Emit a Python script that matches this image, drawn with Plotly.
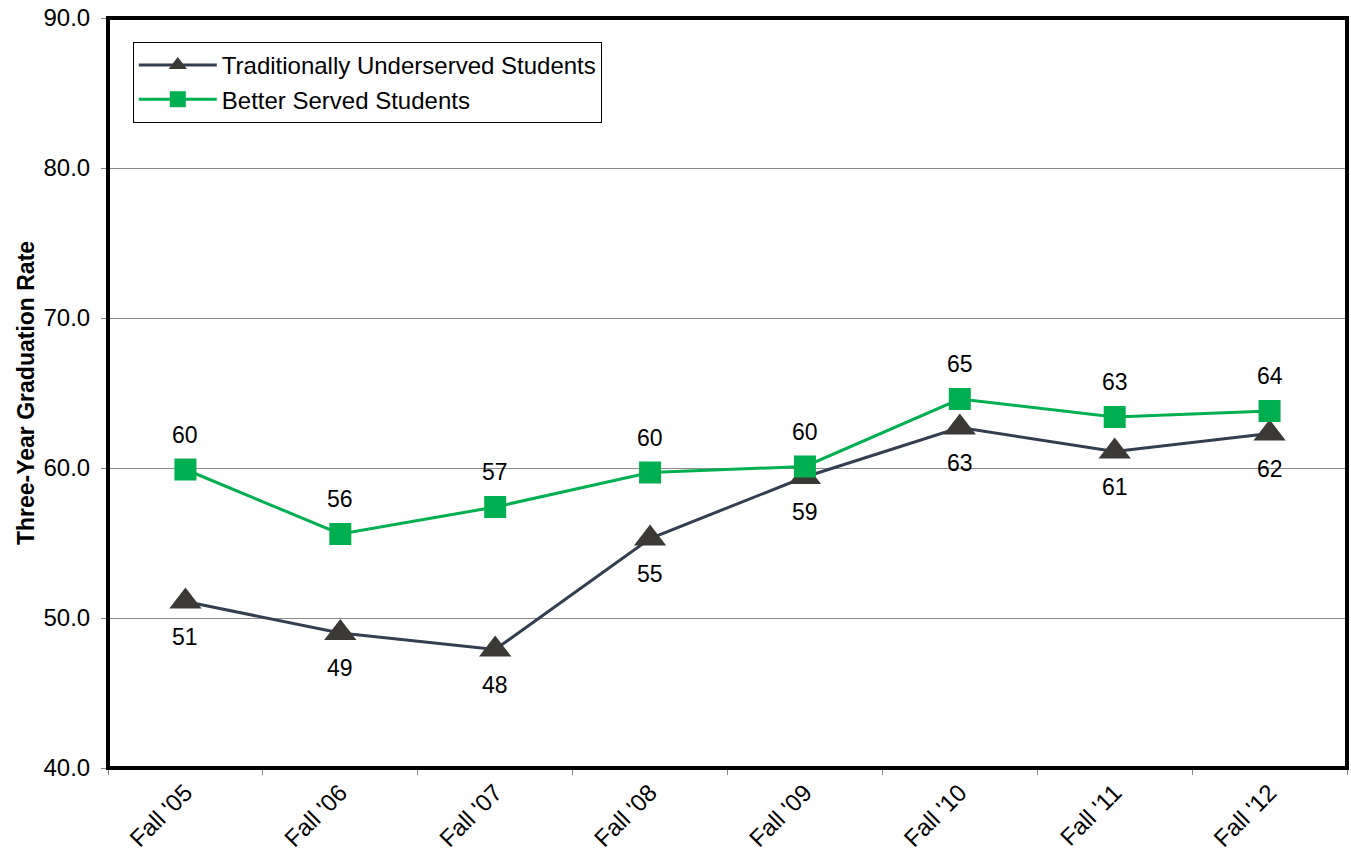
import plotly.graph_objects as go

categories = ["Fall '05", "Fall '06", "Fall '07", "Fall '08", "Fall '09", "Fall '10", "Fall '11", "Fall '12"]
underserved = [51.1, 49.0, 47.9, 55.3, 59.4, 62.7, 61.1, 62.3]
better_served = [59.9, 55.6, 57.4, 59.7, 60.1, 64.6, 63.4, 63.8]
y_ticks = [40, 50, 60, 70, 80, 90]

FONT = "Liberation Sans, Arial"

fig = go.Figure()

fig.add_trace(go.Scatter(
    x=categories, y=underserved, name="Traditionally Underserved Students",
    mode="lines+markers",
    line=dict(color="#333F50", width=3),
    marker=dict(symbol="triangle-up", size=28, color="#3B3936"),
))
fig.add_trace(go.Scatter(
    x=categories, y=better_served, name="Better Served Students",
    mode="lines+markers",
    line=dict(color="#00B050", width=3),
    marker=dict(symbol="square", size=22, color="#00B050"),
))

for c, v in zip(categories, underserved):
    fig.add_annotation(x=c, y=v, text=f"{v:.0f}", showarrow=False, yshift=-35,
                       font=dict(family=FONT, size=23, color="#000000"))
for c, v in zip(categories, better_served):
    fig.add_annotation(x=c, y=v, text=f"{v:.0f}", showarrow=False, yshift=35,
                       font=dict(family=FONT, size=23, color="#000000"))

fig.add_shape(type="rect", xref="paper", yref="paper", x0=0, y0=0, x1=1, y1=1,
              line=dict(color="#000000", width=4), layer="above")

fig.update_layout(
    width=1351, height=856,
    margin=dict(l=108, r=4, t=16, b=88),
    paper_bgcolor="white", plot_bgcolor="white",
    font=dict(family=FONT, color="#000000"),
    showlegend=True,
    legend=dict(
        x=0.02, y=0.968, xanchor="left", yanchor="top",
        bordercolor="#000000", borderwidth=1, bgcolor="white",
        font=dict(size=24), tracegroupgap=0, itemwidth=78,
    ),
    xaxis=dict(
        type="category", tickangle=-45, tickson="boundaries",
        ticks="outside", ticklen=6, tickcolor="#888888",
        showline=True, linecolor="#888888", linewidth=1,
        showgrid=False, tickfont=dict(size=24),
        range=[-0.5, len(categories) - 0.5],
    ),
    yaxis=dict(
        range=[40, 90], tickvals=y_ticks, ticktext=[f"{t:.1f}" for t in y_ticks],
        ticks="outside", ticklen=6, tickcolor="#888888",
        showline=True, linecolor="#888888",
        showgrid=True, gridcolor="#8C8C8C", gridwidth=1,
        tickfont=dict(size=24), zeroline=False, ticklabelstandoff=6,
        title=dict(text="<b>Three-Year Graduation Rate</b>", font=dict(size=23), standoff=2),
    ),
)

fig.write_html("out.html")
